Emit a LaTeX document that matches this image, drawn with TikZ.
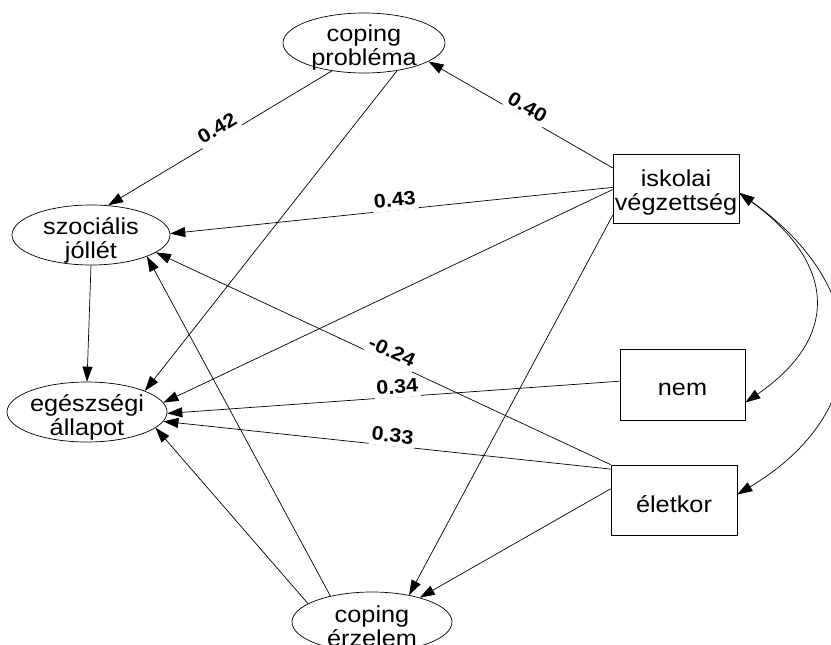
\documentclass[tikz,border=0pt]{standalone}
\usepackage{fontspec}
\setmainfont{Liberation Sans}[FakeStretch=1.1]
\usetikzlibrary{shapes.geometric,arrows.meta}
\begin{document}
\begin{tikzpicture}[x=1pt,y=-1pt,
  lat/.style={ellipse, draw, line width=0.7pt, inner sep=0pt},
  obs/.style={rectangle, draw, line width=0.7pt, inner sep=0pt, minimum width=126pt, minimum height=70pt},
  txt/.style={align=center, inner sep=0pt, font=\fontsize{23}{24}\selectfont},
  conn/.style={line width=0.7pt, -{Triangle[length=15pt,width=10pt]}},
  cov/.style={line width=0.7pt, {Triangle[length=15pt,width=10pt]}-{Triangle[length=15pt,width=10pt]}},
  coef/.style={sloped, above=-1pt, fill=white, inner xsep=2pt, inner ysep=4pt, pos=0.49,
    font=\fontsize{19.5}{21}\selectfont\bfseries}]
\useasboundingbox (0,0) rectangle (831,645);

% latent variables
\node[lat, minimum width=162pt, minimum height=60pt] (cp) at (364,43) {};
\node[lat, minimum width=158pt, minimum height=60pt] (szoc) at (91,235) {};
\node[lat, minimum width=160pt, minimum height=60pt] (egesz) at (87,412) {};
\node[lat, minimum width=160pt, minimum height=60pt] (ce) at (372,622) {};
\node[txt] (cpT) at (364,47.5) {coping\\probléma};
\node[txt] (szocT) at (91,240) {szociális\\jóllét};
\node[txt] (egeszT) at (87,417) {egészségi\\állapot};
\node[txt] (ceT) at (372,626.5) {coping\\érzelem};

% observed variables
\node[obs, minimum height=69pt] (isk) at (676,188.5) {};
\node[obs, minimum width=125pt, minimum height=71pt] (nem) at (682.5,384.5) {};
\node[obs] (el) at (674,500) {};
\node[txt] (iskT) at (676,193) {iskolai\\végzettség};
\node[txt] (nemT) at (682.5,389) {nem};
\node[txt] (elT) at (674,504) {életkor};

% paths
\draw[conn] (isk.162) -- node[coef] (l40) {0.40} (cp.-16);
\draw[conn] (cp.-139) -- node[coef] (l42) {0.42} (szoc.60);
\draw[conn] (cp.-40) -- (egesz.20);
\draw[conn] (isk.179) -- node[coef] (l43) {0.43} (szoc.1.5);
\draw[conn] (isk.181) -- (egesz.7);
\draw[conn] (isk.203) -- (ce.36);
\draw[conn] (szoc.south) -- (egesz.north);
\draw[conn] (nem.177) -- node[coef] (l34) {0.34} (egesz.-1);
\draw[conn] (el.north west) -- node[coef] (l24) {-0.24} (szoc.-15);
\draw[conn] (el.154.5) -- node[coef] (l33) {0.33} (egesz.-7);
\draw[conn] (el.170) -- (ce.27);
\draw[conn] (ce.164) -- (egesz.-13);
\draw[conn] (ce.148.5) -- (szoc.-21);

% covariances
\draw[cov] (isk.-4) .. controls +(96,70) and +(96,-66) .. (nem.-16);
\draw[cov] (isk.-4) .. controls +(134,95) and +(138,-83) .. (el.5);
\end{tikzpicture}
\end{document}
